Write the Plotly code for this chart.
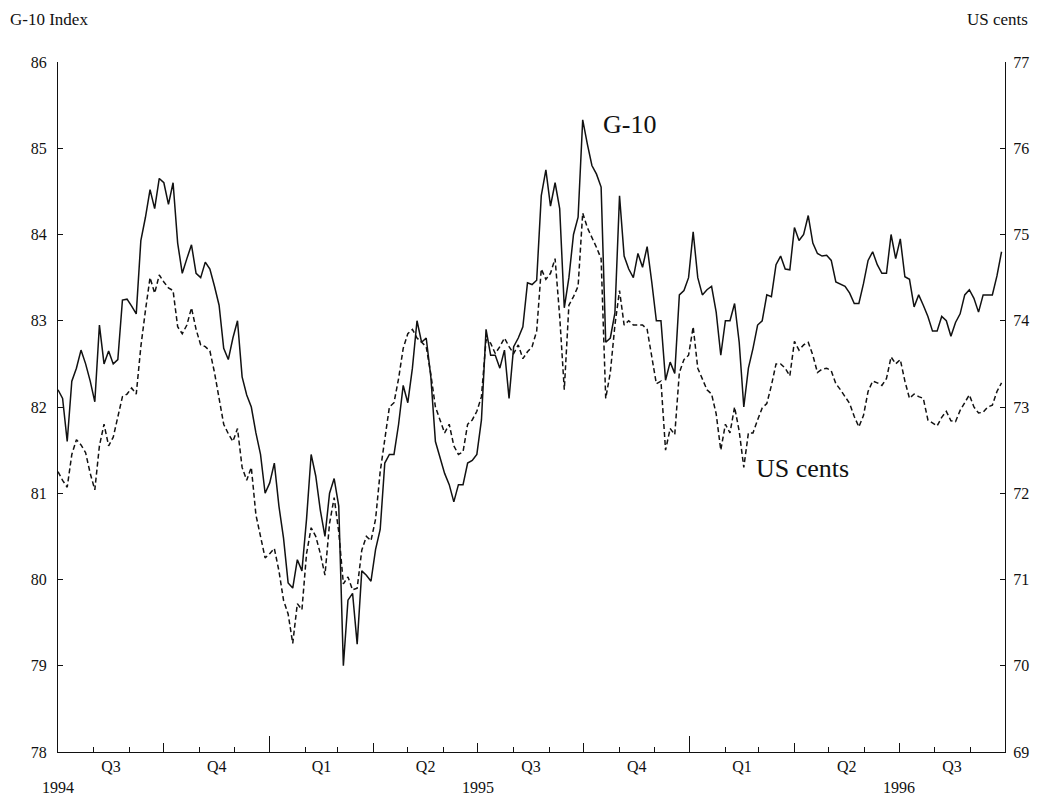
import pandas as pd
import plotly.graph_objects as go

# Observations every four days, 1 Jul 1994 - 28 Sep 1996
dates = pd.date_range("1994-07-01", periods=206, freq="4D")

# G-10 index (left scale)
g10 = [
    82.2, 82.1, 81.6, 82.3, 82.45, 82.66, 82.5, 82.3, 82.06, 82.95,
    82.5, 82.65, 82.5, 82.55, 83.24, 83.25, 83.17, 83.08, 83.93, 84.2,
    84.52, 84.3, 84.65, 84.6, 84.35, 84.6, 83.9, 83.55, 83.72, 83.88,
    83.55, 83.5, 83.68, 83.6, 83.4, 83.18, 82.68, 82.55, 82.8, 83.0,
    82.35, 82.14, 82.0, 81.7, 81.45, 81.0, 81.12, 81.35, 80.85, 80.48,
    79.96, 79.9, 80.23, 80.1, 80.7, 81.45, 81.2, 80.8, 80.5, 81.0,
    81.17, 80.85, 79.0, 79.76, 79.84, 79.25, 80.1, 80.05, 79.98, 80.35,
    80.58, 81.35, 81.45, 81.45, 81.8, 82.25, 82.05, 82.45, 83.0, 82.75,
    82.8, 82.35, 81.6, 81.4, 81.23, 81.1, 80.9, 81.1, 81.1, 81.35,
    81.38, 81.45, 81.85, 82.9, 82.6, 82.6, 82.45, 82.66, 82.1, 82.7,
    82.8, 82.93, 83.44, 83.42, 83.47, 84.45, 84.75, 84.33, 84.6, 84.3,
    83.15, 83.5, 84.0, 84.2, 85.33, 85.05, 84.8, 84.7, 84.55, 82.75,
    82.8, 83.09, 84.45, 83.75, 83.6, 83.5, 83.78, 83.62, 83.86, 83.45,
    83.0, 83.0, 82.31, 82.52, 82.39, 83.3, 83.35, 83.5, 84.03, 83.5,
    83.3, 83.36, 83.4, 83.1, 82.6, 83.0, 83.0, 83.2, 82.75, 82.0,
    82.45, 82.68, 82.95, 83.0, 83.3, 83.28, 83.65, 83.75, 83.6, 83.59,
    84.08, 83.93, 84.0, 84.22, 83.9, 83.78, 83.75, 83.76, 83.7, 83.45,
    83.42, 83.4, 83.32, 83.2, 83.2, 83.43, 83.7, 83.8, 83.65, 83.55,
    83.55, 84.0, 83.72, 83.95, 83.51, 83.48, 83.16, 83.3, 83.18, 83.05,
    82.88, 82.88, 83.05, 83.0, 82.82, 82.98, 83.08, 83.3, 83.36, 83.26,
    83.1, 83.3, 83.3, 83.3, 83.52, 83.8,
]

# Exchange rate in US cents (right scale)
us_cents = [
    72.25, 72.15, 72.07, 72.45, 72.62, 72.56, 72.47, 72.23, 72.04, 72.55,
    72.8, 72.55, 72.65, 72.88, 73.12, 73.15, 73.22, 73.15, 73.7, 74.12,
    74.5, 74.32, 74.53, 74.45, 74.38, 74.35, 73.93, 73.85, 73.95, 74.15,
    73.9, 73.72, 73.7, 73.65, 73.4, 73.1, 72.8, 72.69, 72.6, 72.75,
    72.3, 72.15, 72.3, 71.75, 71.48, 71.25, 71.3, 71.36, 71.1, 70.76,
    70.6, 70.26, 70.72, 70.65, 71.3, 71.6, 71.5, 71.3, 71.05, 71.65,
    71.95, 71.55, 70.95, 71.03, 70.88, 70.9, 71.34, 71.5, 71.45, 71.7,
    72.25, 72.62, 73.0, 73.05, 73.33, 73.68, 73.85, 73.9, 73.8, 73.75,
    73.7, 73.38, 73.0, 72.85, 72.7, 72.8, 72.55, 72.45, 72.48, 72.8,
    72.85, 72.95, 73.12, 73.78, 73.74, 73.62, 73.7, 73.8, 73.7, 73.62,
    73.72, 73.56, 73.64, 73.7, 73.88, 74.6, 74.48, 74.55, 74.72, 74.05,
    73.2, 74.18, 74.28, 74.4, 75.25, 75.08, 74.97, 74.85, 74.72, 73.1,
    73.4, 73.95, 74.35, 73.95, 74.0, 73.95, 73.95, 73.95, 73.9, 73.6,
    73.27, 73.3, 72.5, 72.75, 72.68, 73.4, 73.55, 73.6, 73.93, 73.45,
    73.33, 73.2, 73.15, 72.92, 72.5, 72.8, 72.7, 73.0, 72.72, 72.3,
    72.7, 72.7, 72.85, 72.99, 73.04, 73.25, 73.5, 73.5, 73.45, 73.36,
    73.76, 73.66, 73.72, 73.75, 73.6, 73.4, 73.44, 73.45, 73.42, 73.27,
    73.2, 73.12, 73.04, 72.89, 72.77, 72.9, 73.18, 73.3, 73.28, 73.25,
    73.33, 73.58, 73.5, 73.55, 73.3, 73.1, 73.15, 73.12, 73.1, 72.85,
    72.81, 72.78, 72.88, 72.95, 72.84, 72.83, 72.96, 73.05, 73.14, 73.0,
    72.93, 72.94, 73.0, 73.02, 73.18, 73.28,
]

quarter_labels = ["Q3", "Q4", "Q1", "Q2", "Q3", "Q4", "Q1", "Q2", "Q3"]
year_labels = ["1994", "1995", "1996"]

x_start, x_end = "1994-07-01", "1996-10-01"
month_starts = pd.date_range(x_start, x_end, freq="MS")
quarter_starts = pd.date_range(x_start, x_end, freq="QS")
year_starts = pd.date_range("1995-01-01", x_end, freq="YS")
quarter_mids = [a + (b - a) / 2 for a, b in zip(quarter_starts[:-1], quarter_starts[1:])]
year_mids = [pd.Timestamp(f"{y}-07-01") for y in year_labels]

FONT = "Liberation Serif"
BLACK = "#111111"

fig = go.Figure()
fig.add_trace(go.Scatter(
    x=dates, y=g10, mode="lines", name="G-10",
    line=dict(color=BLACK, width=1.5), yaxis="y",
))
fig.add_trace(go.Scatter(
    x=dates, y=us_cents, mode="lines", name="US cents",
    line=dict(color=BLACK, width=1.5, dash="5px,3px"), yaxis="y2",
))
# placeholder traces so the tick-mark axes are drawn
fig.add_trace(go.Scatter(x=[], y=[], xaxis="x2", showlegend=False))
fig.add_trace(go.Scatter(x=[], y=[], xaxis="x3", showlegend=False))

rng = [x_start, x_end]
fig.update_layout(
    width=1048, height=799,
    margin=dict(l=58, r=43, t=62, b=47),
    paper_bgcolor="white", plot_bgcolor="white",
    showlegend=False,
    font=dict(family=FONT, size=16, color=BLACK),
    xaxis=dict(
        type="date", range=rng, showgrid=False, zeroline=False,
        showline=True, linecolor=BLACK, linewidth=1.2,
        tickmode="array", tickvals=quarter_mids, ticktext=quarter_labels,
        ticks="", tickfont=dict(family=FONT, size=16, color=BLACK),
    ),
    xaxis2=dict(
        type="date", range=rng, overlaying="x", anchor="y", side="bottom",
        showgrid=False, zeroline=False, showline=False, showticklabels=False,
        tickmode="array", tickvals=list(quarter_starts), ticks="inside",
        ticklen=9, tickwidth=1.2, tickcolor=BLACK,
        minor=dict(tickmode="array", tickvals=list(month_starts), ticks="inside",
                   ticklen=5, tickwidth=1, tickcolor=BLACK, showgrid=False),
    ),
    xaxis3=dict(
        type="date", range=rng, overlaying="x", anchor="y", side="bottom",
        showgrid=False, zeroline=False, showline=False, showticklabels=False,
        tickmode="array", tickvals=list(year_starts), ticks="inside",
        ticklen=16, tickwidth=1.2, tickcolor=BLACK,
    ),
    yaxis=dict(
        range=[78, 86], dtick=1, tick0=78, showgrid=False, zeroline=False,
        showline=True, linecolor=BLACK, linewidth=1.2,
        ticks="inside", ticklen=5, tickcolor=BLACK, ticklabelstandoff=7,
        tickfont=dict(family=FONT, size=16, color=BLACK),
    ),
    yaxis2=dict(
        range=[69, 77], dtick=1, tick0=69, overlaying="y", side="right",
        showgrid=False, zeroline=False,
        showline=True, linecolor=BLACK, linewidth=1.2,
        ticks="inside", ticklen=5, tickcolor=BLACK, ticklabelstandoff=4,
        tickfont=dict(family=FONT, size=16, color=BLACK),
    ),
)

annotations = [
    dict(text="G-10 Index", xref="paper", yref="paper", x=-0.053, y=1.061,
         xanchor="left", yanchor="middle", showarrow=False,
         font=dict(family=FONT, size=17, color=BLACK)),
    dict(text="US cents", xref="paper", yref="paper", x=1.026, y=1.061,
         xanchor="right", yanchor="middle", showarrow=False,
         font=dict(family=FONT, size=17, color=BLACK)),
    dict(text="G-10", x=pd.Timestamp("1995-11-10"), y=85.27, xref="x", yref="y",
         showarrow=False, font=dict(family=FONT, size=26, color=BLACK)),
    dict(text="US cents", x=pd.Timestamp("1996-04-08"), y=72.29, xref="x", yref="y2",
         showarrow=False, font=dict(family=FONT, size=26, color=BLACK)),
]
for label, mid in zip(year_labels, year_mids):
    annotations.append(dict(text=label, x=mid, y=-0.052, xref="x", yref="paper",
                            xanchor="center", yanchor="middle", showarrow=False,
                            font=dict(family=FONT, size=16, color=BLACK)))
fig.update_layout(annotations=annotations)

fig.write_html("out.html")
